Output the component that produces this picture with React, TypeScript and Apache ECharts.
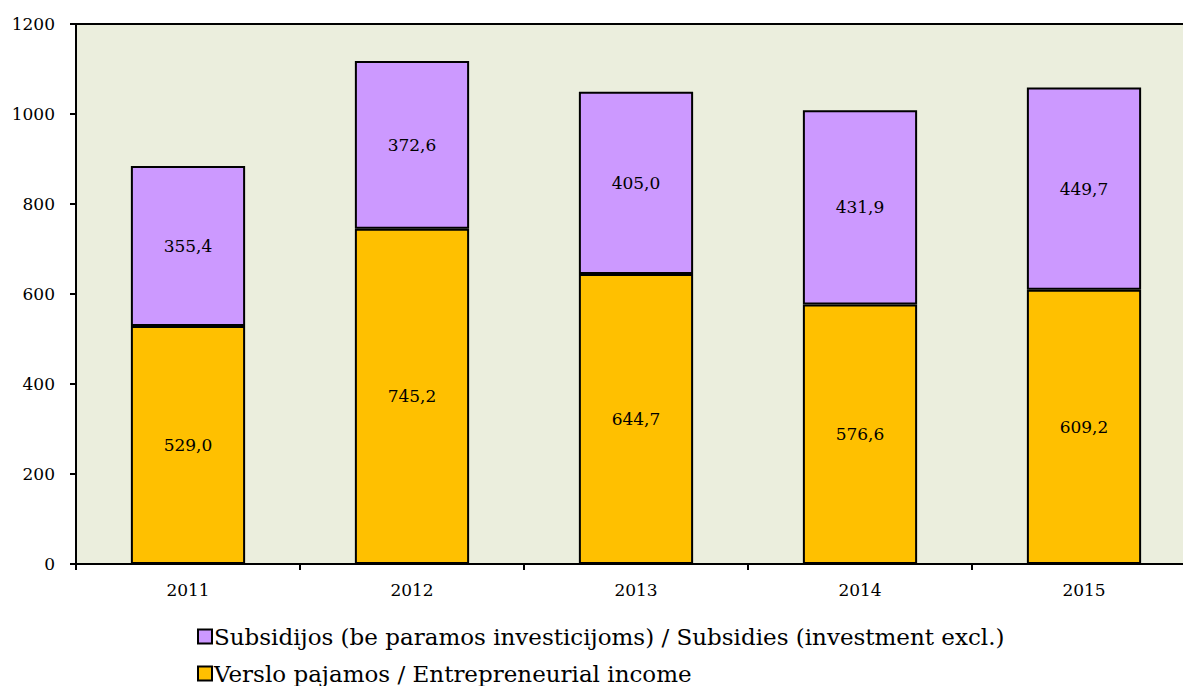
import React, { useEffect, useRef } from "react";
import * as echarts from "echarts";

const years = ["2011", "2012", "2013", "2014", "2015"];
const entrepreneurial = [529.0, 745.2, 644.7, 576.6, 609.2];
const subsidies = [355.4, 372.6, 405.0, 431.9, 449.7];
const subsidiesName = "Subsidijos (be paramos investicijoms) / Subsidies (investment excl.)";
const incomeName = "Verslo pajamos / Entrepreneurial income";

const FONT = "DejaVu Serif";

export default function App() {
  const ref = useRef<HTMLDivElement>(null);
  useEffect(() => {
    const chart = echarts.init(ref.current!, null, { renderer: "svg" });
    const fmt = (p: any) => Number(p.value).toFixed(1).replace(".", ",");
    const legendBase = {
      orient: "horizontal",
      left: 192,
      itemWidth: 14,
      itemHeight: 14,
      itemGap: 0,
      icon: "rect",
      textStyle: { fontFamily: FONT, fontSize: 23, color: "#000", padding: [0, 0, 0, -3] },
      itemStyle: { borderColor: "#000", borderWidth: 2 },
    };
    chart.setOption({
      animation: false,
      textStyle: { fontFamily: FONT },
      grid: { left: 76, top: 24, right: 0, bottom: 122, show: true, backgroundColor: "#EBEEDD", borderColor: "#000", borderWidth: 2 },
      legend: [
        { ...legendBase, top: 620, data: [subsidiesName] },
        { ...legendBase, top: 657, data: [incomeName] },
      ],
      xAxis: {
        type: "category",
        data: years,
        axisLine: { lineStyle: { color: "#000", width: 2 } },
        axisTick: { show: true, length: 6, lineStyle: { color: "#000", width: 2 } },
        axisLabel: { color: "#000", fontSize: 17, margin: 17, fontFamily: FONT },
      },
      yAxis: {
        type: "value",
        min: 0,
        max: 1200,
        interval: 200,
        axisLine: { show: true, lineStyle: { color: "#000", width: 2 } },
        axisTick: { show: true, length: 6, lineStyle: { color: "#000", width: 2 } },
        axisLabel: { color: "#000", fontSize: 17, margin: 21, fontFamily: FONT, formatter: (v: number) => String(v) },
        splitLine: { show: false },
      },
      series: [
        {
          name: incomeName,
          type: "bar",
          stack: "a",
          data: entrepreneurial,
          barWidth: "51%",
          itemStyle: { color: "#FFC000", borderColor: "#000", borderWidth: 2 },
          label: { show: true, position: "inside", color: "#000", fontSize: 17, fontFamily: FONT, formatter: fmt },
        },
        {
          name: subsidiesName,
          type: "bar",
          stack: "a",
          data: subsidies,
          barWidth: "51%",
          itemStyle: { color: "#CC99FF", borderColor: "#000", borderWidth: 2 },
          label: { show: true, position: "inside", color: "#000", fontSize: 17, fontFamily: FONT, formatter: fmt },
        },
      ],
    });
    return () => chart.dispose();
  }, []);
  return (
    <div style={{ position: "absolute", left: 0, top: 0, width: 1183, height: 686, overflow: "hidden" }}>
      <div ref={ref} style={{ width: 1196, height: 686 }} />
    </div>
  );
}
